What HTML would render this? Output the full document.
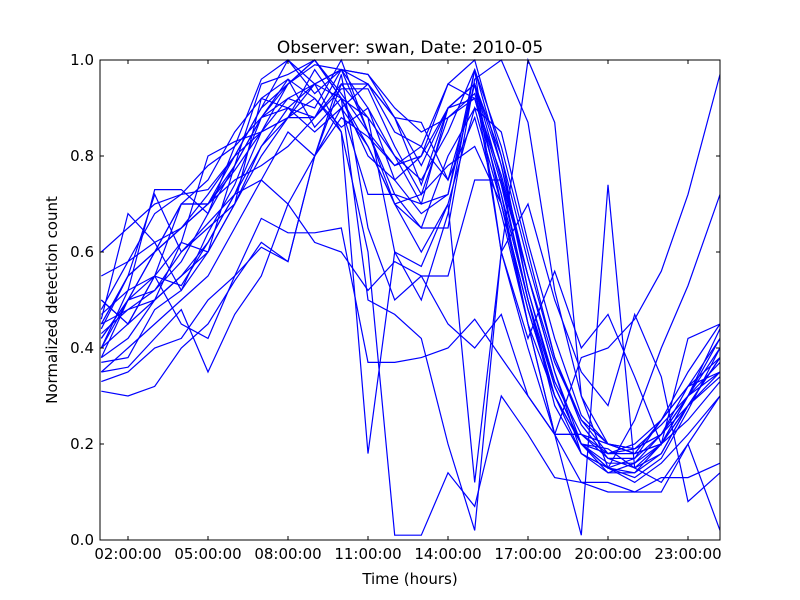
<!DOCTYPE html>
<html><head><meta charset="utf-8"><style>
html,body{margin:0;padding:0;background:#fff;}
svg{display:block;font-family:"DejaVu Sans","Liberation Sans",sans-serif;}
</style></head><body>
<svg id="chart" width="800" height="600" xmlns="http://www.w3.org/2000/svg">
<rect x="0" y="0" width="800" height="600" fill="#fff"/>
<text x="410" y="53" text-anchor="middle" font-size="17">Observer: swan, Date: 2010-05</text>
<text x="410" y="584" text-anchor="middle" font-size="15">Time (hours)</text>
<text transform="translate(57,300) rotate(-90)" text-anchor="middle" font-size="15">Normalized detection count</text>
<g id="lines"></g>
<g id="axes"></g>
<rect x="100" y="60" width="620" height="480" fill="none" stroke="#000" stroke-width="1"/>
</svg>
<script>
const hours = [1,2,3,4,5,6,7,8,9,10,11,12,13,14,15,16,17,18,19,20,21,22,23,24.2];
const xTickHours = [2,5,8,11,14,17,20,23];
const xTickLabels = ["02:00:00","05:00:00","08:00:00","11:00:00","14:00:00","17:00:00","20:00:00","23:00:00"];
const yTicks = [0,0.2,0.4,0.6,0.8,1.0];
const s1 = [.45,.55,.6,.65,.72,.8,.9,1,.95,.98,.9,.75,.8,.95,.92,.72,.5,.32,.2,.15,.17,.22,.3,.4];
const s2 = [.42,.5,.52,.58,.68,.78,.88,.95,1,.93,.85,.72,.7,.9,.95,.78,.55,.35,.2,.14,.16,.22,.32,.42];
const s3 = [.38,.42,.5,.55,.6,.7,.82,.9,.88,.95,.88,.8,.75,.85,.98,.82,.6,.38,.25,.18,.18,.2,.28,.38];
const s4 = [.48,.58,.68,.72,.73,.8,.85,.88,.98,.9,.95,.85,.82,.95,1,.8,.58,.38,.24,.17,.17,.25,.35,.45];
const s5 = [.35,.4,.45,.5,.55,.65,.75,.85,.8,.9,.82,.7,.65,.8,.9,.85,.62,.42,.26,.2,.19,.22,.3,.37];
const s6 = [.4,.5,.55,.53,.62,.72,.85,.92,.9,1,.85,.7,.6,.7,.9,.7,.48,.3,.18,.14,.14,.18,.28,.35];
const s7 = [.46,.68,.62,.52,.6,.78,.95,.97,1,.92,.8,.75,.68,.72,.95,.8,.52,.32,.2,.15,.14,.2,.3,.42];
const s8 = [.5,.45,.55,.7,.7,.75,.78,.82,.88,.98,.95,.88,.78,.9,.95,.75,.5,.3,.2,.18,.19,.24,.3,.35];
const s9 = [.37,.38,.48,.52,.64,.74,.88,.96,.92,.86,.9,.8,.7,.72,.98,.78,.52,.33,.22,.17,.15,.2,.25,.33];
const s10 = [.55,.58,.62,.65,.7,.77,.85,.95,.99,.98,.97,.9,.85,.88,.92,.76,.55,.37,.25,.2,.19,.22,.28,.38];
const s11 = [.31,.3,.32,.4,.45,.54,.62,.58,.8,.95,.95,.88,.87,.75,.88,.68,.45,.3,.2,.19,.15,.18,.28,.34];
const s12 = [.4,.52,.55,.45,.42,.55,.67,.64,.64,.65,.37,.37,.38,.4,.46,.38,.3,.22,.38,.4,.46,.56,.72,.97];
const s13 = [.42,.5,.6,.7,.75,.85,.92,.9,.95,.85,.6,.01,.01,.14,.07,.3,.22,.13,.12,.1,.1,.13,.13,.16];
const s14 = [.45,.55,.6,.65,.7,.78,.88,.92,.95,.92,.5,.47,.42,.2,.02,.6,.7,.5,.35,.28,.47,.34,.08,.14];
const s15 = [.4,.45,.5,.55,.62,.72,.82,.88,.92,.85,.18,.6,.57,.7,.12,.6,1,.87,.3,.15,.25,.4,.53,.72];
const s16 = [.6,.65,.7,.72,.78,.82,.88,.9,.85,.9,.72,.72,.65,.65,.96,1,.87,.52,.3,.2,.18,.2,.3,.44];
const s17 = [.45,.48,.52,.6,.66,.72,.75,.7,.62,.6,.52,.58,.55,.45,.4,.47,.3,.22,.22,.18,.2,.25,.32,.38];
const s18 = [.33,.35,.4,.42,.5,.55,.61,.58,.8,.97,.65,.5,.55,.55,.75,.75,.55,.35,.18,.15,.12,.16,.22,.3];
const s19 = [.44,.55,.72,.6,.65,.7,.92,.96,.86,.92,.82,.7,.72,.78,.82,.7,.45,.22,.01,.74,.15,.12,.2,.3];
const s20 = [.38,.5,.6,.7,.7,.8,.9,.95,1,.92,.88,.6,.5,.68,.98,.6,.4,.22,.12,.12,.1,.1,.2,.02];
const s21 = [.5,.45,.55,.62,.6,.7,.8,.88,.95,.98,.85,.78,.8,.9,.92,.72,.45,.22,.22,.2,.18,.25,.32,.35];
const s22 = [.35,.36,.42,.48,.35,.47,.55,.7,.8,.88,.84,.78,.82,.75,.95,.6,.42,.56,.4,.47,.34,.2,.42,.45];
const s23 = [.47,.52,.73,.73,.68,.82,.96,1,.93,.98,.97,.88,.74,.9,.95,.7,.48,.3,.2,.16,.16,.2,.28,.38];
const s24 = [.43,.48,.5,.62,.8,.83,.85,.88,.88,.94,.94,.82,.72,.88,.93,.74,.5,.28,.18,.15,.13,.17,.27,.4];
const series = [s1,s2,s3,s4,s5,s6,s7,s8,s9,s10,s11,s12,s13,s14,s15,s16,s17,s18,s19,s20,s21,s22,s23,s24];

const X0=100,X1=720,Y0=540,Y1=60,HMIN=0.95,HMAX=24.2;
function xScale(h){return X0+(h-HMIN)/(HMAX-HMIN)*(X1-X0);}
function yScale(v){return Y0-v*(Y0-Y1);}
const NS="http://www.w3.org/2000/svg";
const gl=document.getElementById('lines');
series.forEach((s,k)=>{
  const p=document.createElementNS(NS,'polyline');
  p.setAttribute('points',s.map((v,i)=>xScale(hours[i]).toFixed(1)+','+yScale(v).toFixed(1)).join(' '));
  p.setAttribute('fill','none');p.setAttribute('stroke','#0000ff');p.setAttribute('stroke-width','1.2');
  
  
  gl.appendChild(p);
});
const ga=document.getElementById('axes');
xTickHours.forEach((h,i)=>{
  const x=xScale(h);
  const t=document.createElementNS(NS,'path');
  t.setAttribute('d',`M${x},540v-4M${x},60v4`);t.setAttribute('stroke','#000');
  
  
  ga.appendChild(t);
  const l=document.createElementNS(NS,'text');
  l.setAttribute('x',x);l.setAttribute('y',559);l.setAttribute('text-anchor','middle');l.setAttribute('font-size','15');
  l.textContent=xTickLabels[i];
  
  
  ga.appendChild(l);
});
yTicks.forEach(v=>{
  const y=yScale(v);
  const t=document.createElementNS(NS,'path');
  t.setAttribute('d',`M100,${y}h4M720,${y}h-4`);t.setAttribute('stroke','#000');
  
  
  ga.appendChild(t);
  const l=document.createElementNS(NS,'text');
  l.setAttribute('x',94);l.setAttribute('y',y+5);l.setAttribute('text-anchor','end');l.setAttribute('font-size','15');
  l.textContent=v.toFixed(1);
  
  
  ga.appendChild(l);
});
</script>
</body></html>
